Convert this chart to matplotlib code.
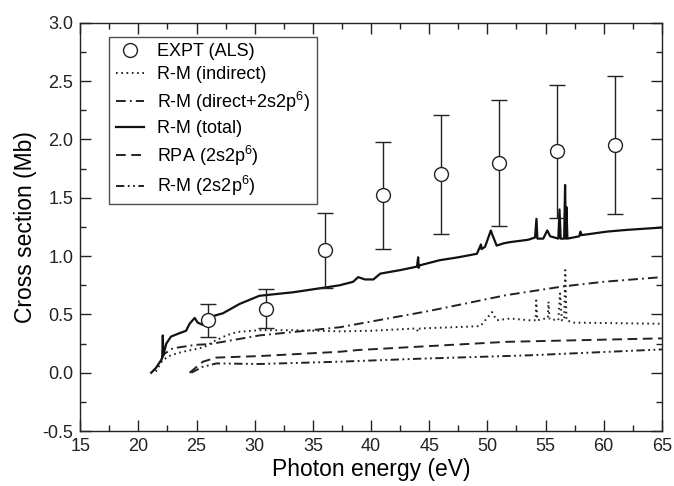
import numpy as np
import matplotlib.pyplot as plt
from matplotlib.ticker import MultipleLocator
from matplotlib.lines import Line2D

plt.rcParams.update({
    'font.family': ['Liberation Sans', 'DejaVu Sans'],
    'font.size': 13,
    'lines.scale_dashes': False,
    'mathtext.fontset': 'custom',
    'mathtext.rm': 'Liberation Sans',
    'mathtext.it': 'Liberation Sans:italic',
})

# experimental points (ALS)
expt_e = [26, 31, 36, 41, 46, 51, 56, 61]
expt_y = [0.45, 0.55, 1.05, 1.52, 1.70, 1.80, 1.90, 1.95]
expt_err = [0.14, 0.17, 0.32, 0.46, 0.51, 0.54, 0.57, 0.59]

# R-M (total)
tot_e = [21.1, 21.5, 21.97, 22.05, 22.1, 22.15, 22.4, 22.8, 23.55, 24.1, 24.4,
         24.84, 25.1, 25.55, 25.98, 26.56, 27.27, 28.7, 30.4, 33.3, 36.0, 37.3,
         38.46, 38.9, 39.47, 40.2, 40.8, 42.5, 43.95, 44.05, 44.1, 44.15, 45.9,
         47.5, 49.1, 49.45, 49.5, 49.8, 50.3, 50.4, 50.8, 51.4, 51.95, 53.5,
         54.1, 54.22, 54.3, 54.8, 55.15, 55.4, 56.1, 56.2, 56.3, 56.6, 56.68,
         56.75, 56.8, 56.88, 57.9, 58.0, 58.1, 60.26, 62.0, 65.0]
tot_y = [0.0, 0.04, 0.11, 0.13, 0.32, 0.15, 0.25, 0.31, 0.34, 0.36, 0.42,
         0.47, 0.43, 0.41, 0.44, 0.49, 0.51, 0.59, 0.66, 0.69, 0.73, 0.75,
         0.78, 0.82, 0.80, 0.80, 0.85, 0.88, 0.91, 0.99, 0.90, 0.92, 0.965,
         0.99, 1.02, 1.10, 1.06, 1.08, 1.22, 1.19, 1.09, 1.11, 1.12, 1.14,
         1.16, 1.32, 1.15, 1.15, 1.22, 1.17, 1.15, 1.40, 1.15, 1.15, 1.61,
         1.15, 1.42, 1.15, 1.17, 1.21, 1.18, 1.21, 1.225, 1.245]

# R-M (indirect)
ind_e = [21.5, 22.1, 22.8, 23.8, 25.27, 25.84, 26.5, 27.56, 28.5, 30.4, 33.3,
         37.3, 40.0, 43.9, 44.05, 44.2, 47.0, 49.4, 50.4, 50.8, 51.95, 53.6,
         54.15, 54.2, 54.3, 55.2, 55.25, 55.35, 56.1, 56.25, 56.4, 56.6, 56.7,
         56.8, 57.4, 65.0]
ind_y = [0.01, 0.11, 0.15, 0.18, 0.21, 0.23, 0.27, 0.32, 0.35, 0.365, 0.365,
         0.355, 0.36, 0.38, 0.35, 0.38, 0.39, 0.40, 0.52, 0.45, 0.465, 0.45,
         0.45, 0.62, 0.45, 0.47, 0.61, 0.46, 0.45, 0.68, 0.45, 0.45, 0.88,
         0.45, 0.43, 0.42]

# R-M (direct+2s2p6)
dir_e = [22.0, 22.2, 22.97, 24.98, 26.1, 30.4, 37.3, 45.0, 51.6, 56.5, 60.0, 65.0]
dir_y = [0.12, 0.16, 0.21, 0.24, 0.245, 0.32, 0.39, 0.53, 0.665, 0.74, 0.78, 0.82]

# RPA (2s2p6)
rpa_e = [24.4, 25.55, 26.7, 30.4, 37.3, 38.9, 51.6, 65.0]
rpa_y = [0.0, 0.095, 0.13, 0.143, 0.18, 0.195, 0.265, 0.295]

# R-M (2s2p6)
rm2_e = [24.55, 25.5, 26.7, 30.4, 37.3, 44.05, 53.7, 65.0]
rm2_y = [0.0, 0.05, 0.08, 0.075, 0.095, 0.12, 0.15, 0.20]

fig = plt.figure(figsize=(6.74, 4.86), dpi=100)
ax = fig.add_axes([0.119, 0.113, 0.863, 0.840])

ink = '#222222'
ax.errorbar(expt_e, expt_y, yerr=expt_err, fmt='o', color=ink,
            markerfacecolor='white', markeredgecolor=ink, markersize=10,
            markeredgewidth=1.0, elinewidth=1.0, capsize=5.5, capthick=1.0,
            zorder=5)
l_ind, = ax.plot(ind_e, ind_y, color=ink, lw=1.4, linestyle=(0, (1.2, 2.6)))
l_dir, = ax.plot(dir_e, dir_y, color=ink, lw=1.4, linestyle=(0, (7, 3, 1.3, 3)))
l_tot, = ax.plot(tot_e, tot_y, color='#111111', lw=1.6)
l_rpa, = ax.plot(rpa_e, rpa_y, color=ink, lw=1.4, linestyle=(0, (7, 4)))
l_rm2, = ax.plot(rm2_e, rm2_y, color=ink, lw=1.4,
                 linestyle=(0, (6, 2.5, 1.3, 2.5, 1.3, 2.5)))
h_expt = Line2D([], [], linestyle='none', marker='o', markersize=10,
                markerfacecolor='white', markeredgecolor=ink, markeredgewidth=1.0)

ax.set_xlim(15, 65)
ax.set_ylim(-0.5, 3.0)
ax.xaxis.set_major_locator(MultipleLocator(5))
ax.xaxis.set_minor_locator(MultipleLocator(2.5))
ax.yaxis.set_major_locator(MultipleLocator(0.5))
ax.yaxis.set_minor_locator(MultipleLocator(0.25))
ax.yaxis.set_major_formatter(plt.FormatStrFormatter('%.1f'))
ax.tick_params(which='both', direction='in', top=True, right=True,
               labelsize=13, width=1.0, colors=ink)
ax.tick_params(which='major', length=8, pad=5)
ax.tick_params(which='minor', length=4.5)
for s in ax.spines.values():
    s.set_linewidth(1.0)
    s.set_color(ink)

ax.set_xlabel('Photon energy (eV)', fontsize=16.5, labelpad=2)
ax.set_ylabel('Cross section (Mb)', fontsize=16.5, labelpad=4)

handles = [h_expt, l_ind, l_dir, l_tot, l_rpa, l_rm2]
labels = ['EXPT (ALS)', 'R-M (indirect)', 'R-M (direct+2s2p$^6$)',
          'R-M (total)', 'RPA (2s2p$^6$)', 'R-M (2s2p$^6$)']
leg = ax.legend(handles, labels, loc='upper left', bbox_to_anchor=(0.05, 0.966),
                borderaxespad=0, fancybox=False, frameon=True, edgecolor=ink,
                fontsize=13, handlelength=1.6, handletextpad=0.7,
                labelspacing=0.35, borderpad=0.35)
leg.get_frame().set_linewidth(1.0)

fig.savefig('out.png', dpi=100)
